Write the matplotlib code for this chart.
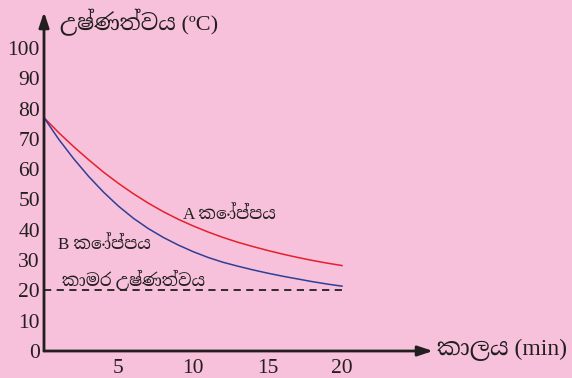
import matplotlib
matplotlib.use("Agg")
import matplotlib.pyplot as plt
from matplotlib import font_manager

# ---- data ----
time_min = [0, 1, 2, 3, 4, 5, 6, 7, 8, 9, 10, 11, 12, 13, 14, 15, 16, 17, 18, 19, 20]
cup_A = [77, 72.0, 67.4, 63.1, 59.0, 55.3, 51.9, 48.8, 46.0, 43.5, 41.3, 39.3, 37.5,
         35.9, 34.5, 33.2, 32.0, 30.9, 29.9, 29.0, 28.2]
cup_B = [77, 69.8, 63.4, 57.6, 52.4, 47.8, 43.8, 40.4, 37.5, 35.0, 32.8, 30.9, 29.3,
         28.0, 26.8, 25.7, 24.7, 23.8, 22.9, 22.1, 21.4]
room_temp = 20
x_ticks = [5, 10, 15, 20]
y_ticks = [0, 10, 20, 30, 40, 50, 60, 70, 80, 90, 100]
y_label = "උෂ්ණත්වය (ºC)"
x_label = "කාලය (min)"
label_A = "A කෝප්පය"
label_B = "B කෝප්පය"
label_room = "කාමර උෂ්ණත්වය"

avail = {f.name for f in font_manager.fontManager.ttflist}
fams = [f for f in ["Liberation Serif", "Noto Serif Sinhala", "Noto Sans Sinhala",
                    "DejaVu Serif", "DejaVu Sans"] if f in avail]
plt.rcParams['font.family'] = fams

BG = "#F8C1DB"
TXT = "#231F20"
W, H = 572, 378
fig = plt.figure(figsize=(W / 100, H / 100), dpi=100, facecolor=BG)
x0, x1, y0, y1 = 44, 433, 351, 12
ax = fig.add_axes([x0 / W, 1 - y0 / H, (x1 - x0) / W, (y0 - y1) / H])
ax.set_facecolor(BG)
ax.patch.set_alpha(0)
ax.set_xlim(0, (x1 - x0) / 14.9)
ax.set_ylim(0, (y0 - y1) / 3.03)
for s in ax.spines.values():
    s.set_visible(False)

ax.plot(time_min, cup_A, color="#E3202B", lw=1.1)
ax.plot(time_min, cup_B, color="#2E3F95", lw=1.1)
ax.plot([0, time_min[-1]], [room_temp, room_temp], color=TXT, lw=1.3,
        linestyle=(0, (4, 3)))

ax.set_xticks(x_ticks)
ax.set_yticks(y_ticks)
ax.tick_params(length=0, labelsize=15.5, colors=TXT, pad=3)
ax.tick_params(axis='x', pad=6)

arrow = dict(arrowstyle="-|>,head_length=0.9,head_width=0.3", color=TXT,
             lw=2.0, shrinkA=0, shrinkB=0)
ax.annotate("", xy=(1, 0), xytext=(0, 0), xycoords="axes fraction", arrowprops=arrow)
ax.annotate("", xy=(0, 1), xytext=(0, 0), xycoords="axes fraction", arrowprops=arrow)

fig.text(60 / W, 1 - 22 / H, y_label, fontsize=16, va="center", ha="left", color=TXT)
fig.text(437 / W, 1 - 350 / H, x_label, fontsize=17, va="center", ha="left", color=TXT)
fig.text(183 / W, 1 - 215 / H, label_A, fontsize=12.3, va="center", ha="left", color=TXT)
fig.text(58 / W, 1 - 245 / H, label_B, fontsize=12.3, va="center", ha="left", color=TXT)
fig.text(62 / W, 1 - 280 / H, label_room, fontsize=12.3, va="center", ha="left", color=TXT)

fig.savefig("out.png", dpi=100, facecolor=BG)
